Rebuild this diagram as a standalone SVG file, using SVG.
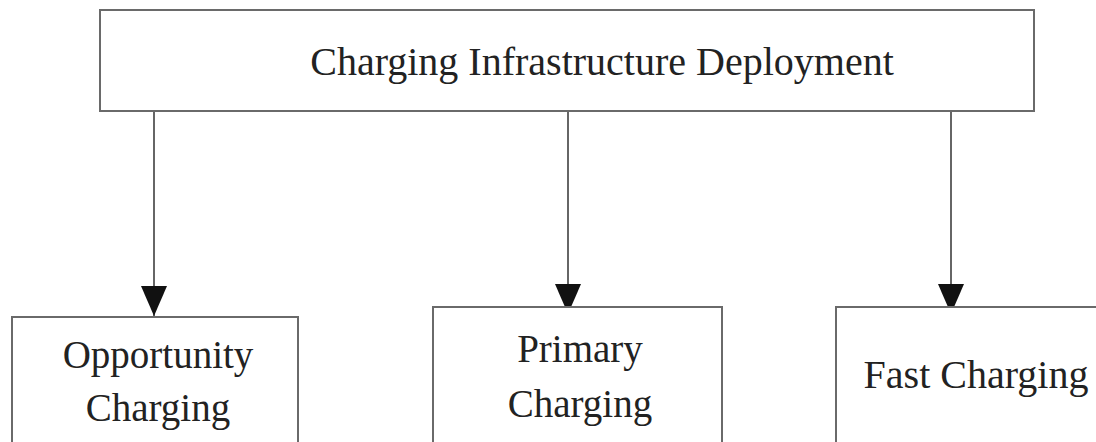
<svg xmlns="http://www.w3.org/2000/svg" width="1096" height="442" viewBox="0 0 1096 442">
<style>
.box{fill:#ffffff;stroke:#6a6a6a;stroke-width:2}
.lbl{font-family:"Liberation Serif","Times New Roman",serif;fill:#222222;text-anchor:middle}
.conn{stroke:#666666;stroke-width:2;fill:none}
</style>
<defs>
<marker id="arr" viewBox="0 0 30 26" markerUnits="userSpaceOnUse" markerWidth="30" markerHeight="26" refX="30" refY="13" orient="auto">
<path d="M0,0 L30,13 L0,26 z" fill="#111111"/>
</marker>
</defs>
<rect width="1096" height="442" fill="#ffffff"/>
<g id="connectors">
<line class="conn" x1="154" y1="111" x2="154" y2="316" marker-end="url(#arr)"/>
<line class="conn" x1="568" y1="111" x2="568" y2="314" marker-end="url(#arr)"/>
<line class="conn" x1="951" y1="111" x2="951" y2="314" marker-end="url(#arr)"/>
</g>
<g id="root">
<rect class="box" x="100" y="10" width="934" height="101"/>
<text class="lbl" x="602" y="75" font-size="40">Charging Infrastructure Deployment</text>
</g>
<g id="opportunity">
<rect class="box" x="12" y="317" width="286" height="140"/>
<text class="lbl" x="158" y="368" font-size="39">Opportunity</text>
<text class="lbl" x="158" y="421" font-size="39">Charging</text>
</g>
<g id="primary">
<rect class="box" x="433" y="307" width="289" height="150"/>
<text class="lbl" x="580" y="362" font-size="39">Primary</text>
<text class="lbl" x="580" y="417" font-size="39">Charging</text>
</g>
<g id="fast">
<rect class="box" x="836" y="307" width="290" height="150"/>
<text class="lbl" x="976" y="388" font-size="40">Fast Charging</text>
</g>
</svg>
